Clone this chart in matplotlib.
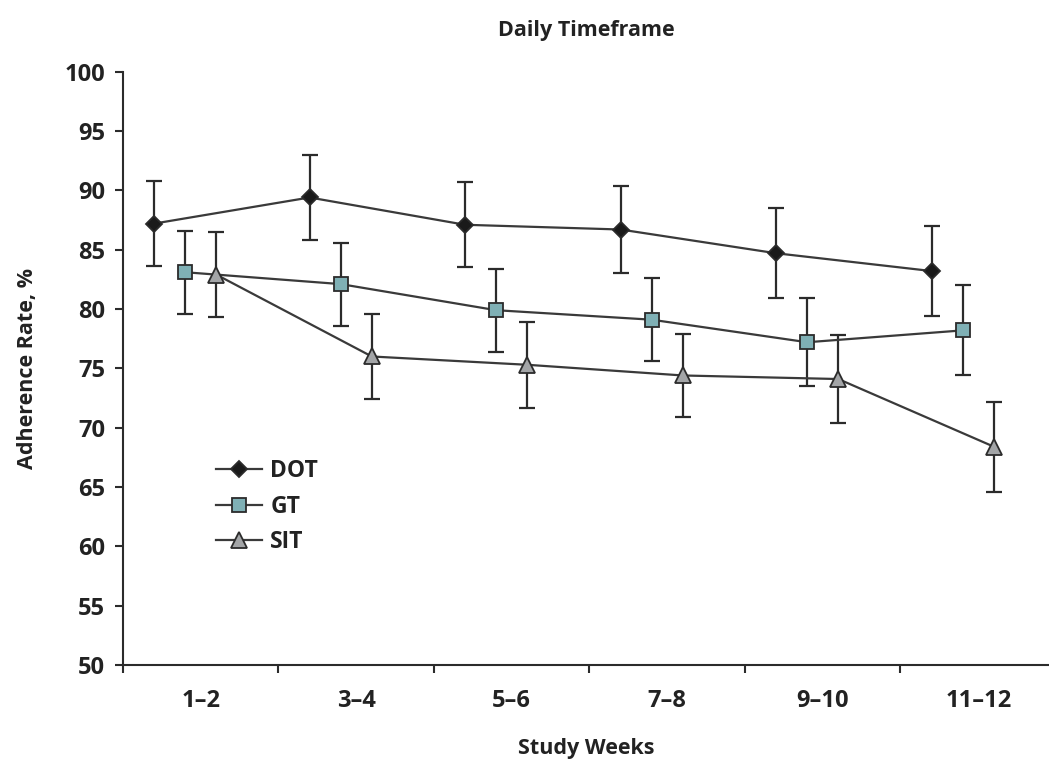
import numpy as np
import matplotlib.pyplot as plt
from matplotlib.ticker import FixedLocator

plt.rcParams['font.family'] = ['Open Sans', 'DejaVu Sans']

weeks = ["1\u20132", "3\u20134", "5\u20136", "7\u20138", "9\u201310", "11\u201312"]

dot = [87.2, 89.4, 87.1, 86.7, 84.7, 83.2]
dot_err = [3.6, 3.6, 3.6, 3.7, 3.8, 3.8]

gt = [83.1, 82.1, 79.9, 79.1, 77.2, 78.2]
gt_err = [3.5, 3.5, 3.5, 3.5, 3.7, 3.8]

sit = [82.9, 76.0, 75.3, 74.4, 74.1, 68.4]
sit_err = [3.6, 3.6, 3.6, 3.5, 3.7, 3.8]

x = np.arange(len(weeks))
dark = "#2b2b2b"
txt = "#222222"

fig = plt.figure(figsize=(10.49, 7.63), dpi=100)
ax = fig.add_axes([123/1049, 1 - 665/763, 1 - 123/1049, (665 - 71.7)/763])

series = [
    ("DOT", dot, dot_err, -0.30, "D", 8.5, "#1a1a1a"),
    ("GT", gt, gt_err, -0.10, "s", 10.5, "#7fb0b5"),
    ("SIT", sit, sit_err, 0.10, "^", 11, "#a3a5a7"),
]

handles = []
for name, vals, err, off, mk, ms, fc in series:
    xs = x + off
    ax.errorbar(xs, vals, yerr=err, fmt="none", ecolor=dark, elinewidth=1.6,
                capsize=5.5, capthick=1.6, zorder=2)
    h, = ax.plot(xs, vals, color="#3a3a3a", lw=1.6, marker=mk, ms=ms,
                 mfc=fc, mec=dark, mew=1.3, label=name, zorder=3)
    handles.append(h)

ax.set_xlim(-0.5, 5.455)
ax.set_ylim(50, 100)
ax.set_yticks(np.arange(50, 101, 5))
ax.set_xticks(x)
ax.set_xticklabels(weeks)
ax.xaxis.set_minor_locator(FixedLocator(np.arange(-0.5, 5.0, 1.0)))
ax.tick_params(axis="x", which="major", length=0, pad=17)
ax.tick_params(axis="x", which="minor", length=6, width=1.5, color=dark, direction="out")
ax.tick_params(axis="y", length=6, width=1.5, color=dark, pad=7)

for lab in ax.get_xticklabels() + ax.get_yticklabels():
    lab.set_fontsize(17)
    lab.set_fontweight("bold")
    lab.set_color(txt)

for s in ["top", "right"]:
    ax.spines[s].set_visible(False)
for s in ["left", "bottom"]:
    ax.spines[s].set_linewidth(1.5)
    ax.spines[s].set_color(dark)

ax.set_title("Daily Timeframe", fontsize=15.5, fontweight="bold", color=txt, pad=26)
ax.set_xlabel("Study Weeks", fontsize=15.5, fontweight="bold", color=txt, labelpad=18)
ax.set_ylabel("Adherence Rate, %", fontsize=15.5, fontweight="bold", color=txt)
ax.yaxis.set_label_coords(-0.092, 0.5)

ax.legend(handles=handles, loc="upper left", bbox_to_anchor=(0.086, 0.37), frameon=False,
          prop={"size": 16.5, "weight": "bold"}, handlelength=2.0, handletextpad=0.35,
          labelspacing=0.5, labelcolor=txt, borderaxespad=0.2)

fig.savefig("out.png", dpi=100)
